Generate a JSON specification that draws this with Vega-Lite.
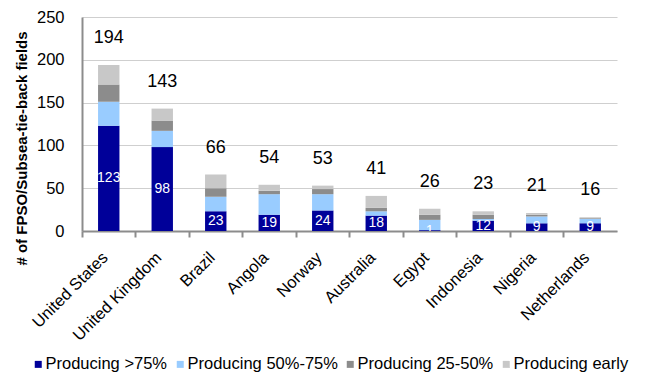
{
  "$schema": "https://vega.github.io/schema/vega-lite/v6.json",
  "autosize": "none",
  "width": 535,
  "height": 214,
  "padding": {"left": 82, "top": 17, "right": 29, "bottom": 145},
  "background": "white",
  "config": {
    "font": "Liberation Sans",
    "view": {"stroke": null},
    "axis": {"labelFont": "Liberation Sans", "titleFont": "Liberation Sans", "labelColor": "#000000", "titleColor": "#000000"},
    "legend": {"labelFont": "Liberation Sans"}
  },
  "data": {
    "values": [
      {"country": "United States", "stage": "Producing >75%", "value": 123},
      {"country": "United States", "stage": "Producing 50%-75%", "value": 28},
      {"country": "United States", "stage": "Producing 25-50%", "value": 20},
      {"country": "United States", "stage": "Producing early", "value": 23},
      {"country": "United Kingdom", "stage": "Producing >75%", "value": 98},
      {"country": "United Kingdom", "stage": "Producing 50%-75%", "value": 19},
      {"country": "United Kingdom", "stage": "Producing 25-50%", "value": 12},
      {"country": "United Kingdom", "stage": "Producing early", "value": 14},
      {"country": "Brazil", "stage": "Producing >75%", "value": 23},
      {"country": "Brazil", "stage": "Producing 50%-75%", "value": 17},
      {"country": "Brazil", "stage": "Producing 25-50%", "value": 10},
      {"country": "Brazil", "stage": "Producing early", "value": 16},
      {"country": "Angola", "stage": "Producing >75%", "value": 19},
      {"country": "Angola", "stage": "Producing 50%-75%", "value": 24},
      {"country": "Angola", "stage": "Producing 25-50%", "value": 4},
      {"country": "Angola", "stage": "Producing early", "value": 7},
      {"country": "Norway", "stage": "Producing >75%", "value": 24},
      {"country": "Norway", "stage": "Producing 50%-75%", "value": 19},
      {"country": "Norway", "stage": "Producing 25-50%", "value": 6},
      {"country": "Norway", "stage": "Producing early", "value": 4},
      {"country": "Australia", "stage": "Producing >75%", "value": 18},
      {"country": "Australia", "stage": "Producing 50%-75%", "value": 5},
      {"country": "Australia", "stage": "Producing 25-50%", "value": 4},
      {"country": "Australia", "stage": "Producing early", "value": 14},
      {"country": "Egypt", "stage": "Producing >75%", "value": 1},
      {"country": "Egypt", "stage": "Producing 50%-75%", "value": 12},
      {"country": "Egypt", "stage": "Producing 25-50%", "value": 6},
      {"country": "Egypt", "stage": "Producing early", "value": 7},
      {"country": "Indonesia", "stage": "Producing >75%", "value": 12},
      {"country": "Indonesia", "stage": "Producing 50%-75%", "value": 2},
      {"country": "Indonesia", "stage": "Producing 25-50%", "value": 5},
      {"country": "Indonesia", "stage": "Producing early", "value": 4},
      {"country": "Nigeria", "stage": "Producing >75%", "value": 9},
      {"country": "Nigeria", "stage": "Producing 50%-75%", "value": 8},
      {"country": "Nigeria", "stage": "Producing 25-50%", "value": 2},
      {"country": "Nigeria", "stage": "Producing early", "value": 2},
      {"country": "Netherlands", "stage": "Producing >75%", "value": 9},
      {"country": "Netherlands", "stage": "Producing 50%-75%", "value": 5},
      {"country": "Netherlands", "stage": "Producing 25-50%", "value": 1},
      {"country": "Netherlands", "stage": "Producing early", "value": 1}
    ]
  },
  "encoding": {
    "x": {
      "field": "country",
      "type": "nominal",
      "sort": null,
      "scale": {"paddingInner": 0, "paddingOuter": 0},
      "axis": {
        "title": null,
        "bandPosition": 0,
        "labelAngle": -45,
        "labelAlign": "right",
        "labelBaseline": "top",
        "labelFontSize": 16.5,
        "labelPadding": 12,
        "labelOffset": -9,
        "domainColor": "#8C8C8C",
        "domainWidth": 2,
        "tickColor": "#8C8C8C",
        "tickWidth": 2,
        "tickSize": 6,
        "grid": false
      }
    }
  },
  "layer": [
    {
      "transform": [
        {"calculate": "indexof(['Producing >75%','Producing 50%-75%','Producing 25-50%','Producing early'], datum.stage)", "as": "stageOrder"}
      ],
      "mark": {"type": "bar", "width": {"band": 0.4}},
      "encoding": {
        "y": {
          "field": "value",
          "type": "quantitative",
          "aggregate": "sum",
          "stack": "zero",
          "scale": {"domain": [0, 250], "nice": false},
          "axis": {
            "title": "# of FPSO/Subsea-tie-back fields",
            "titleFontSize": 15,
            "titleFontWeight": "bold",
            "titleX": -56,
            "titleY": 131,
            "titleAngle": -90,
            "titleAlign": "center",
            "titleBaseline": "alphabetic",
            "values": [0, 50, 100, 150, 200, 250],
            "labelFontSize": 16.5,
            "labelPadding": 18,
            "ticks": false,
            "domainColor": "#8C8C8C",
            "domainWidth": 2,
            "gridColor": "#CFCFCF",
            "gridWidth": 1.2
          }
        },
        "color": {
          "field": "stage",
          "type": "nominal",
          "scale": {
            "domain": ["Producing >75%", "Producing 50%-75%", "Producing 25-50%", "Producing early"],
            "range": ["#000099", "#99CCFF", "#8C8C8C", "#C8C8C8"]
          },
          "legend": {
            "title": null,
            "orient": "none",
            "direction": "horizontal",
            "legendX": -52,
            "legendY": 339,
            "padding": 0,
            "symbolType": "square",
            "symbolSize": 49,
            "symbolStrokeWidth": 0,
            "labelFontSize": 16.5,
            "labelOffset": -1,
            "columnPadding": 4
          }
        },
        "order": {"field": "stageOrder", "type": "quantitative"}
      }
    },
    {
      "mark": {"type": "text", "fontSize": 18, "dy": -27, "baseline": "middle", "color": "#000000"},
      "encoding": {
        "y": {"field": "value", "type": "quantitative", "aggregate": "sum"},
        "text": {"field": "value", "type": "quantitative", "aggregate": "sum"}
      }
    },
    {
      "transform": [
        {"filter": "datum.stage === 'Producing >75%'"},
        {"calculate": "datum.value / 2", "as": "mid"}
      ],
      "mark": {"type": "text", "fontSize": 14, "baseline": "middle", "color": "#FFFFFF", "clip": true},
      "encoding": {
        "y": {"field": "mid", "type": "quantitative"},
        "text": {"field": "value", "type": "quantitative"}
      }
    }
  ]
}
